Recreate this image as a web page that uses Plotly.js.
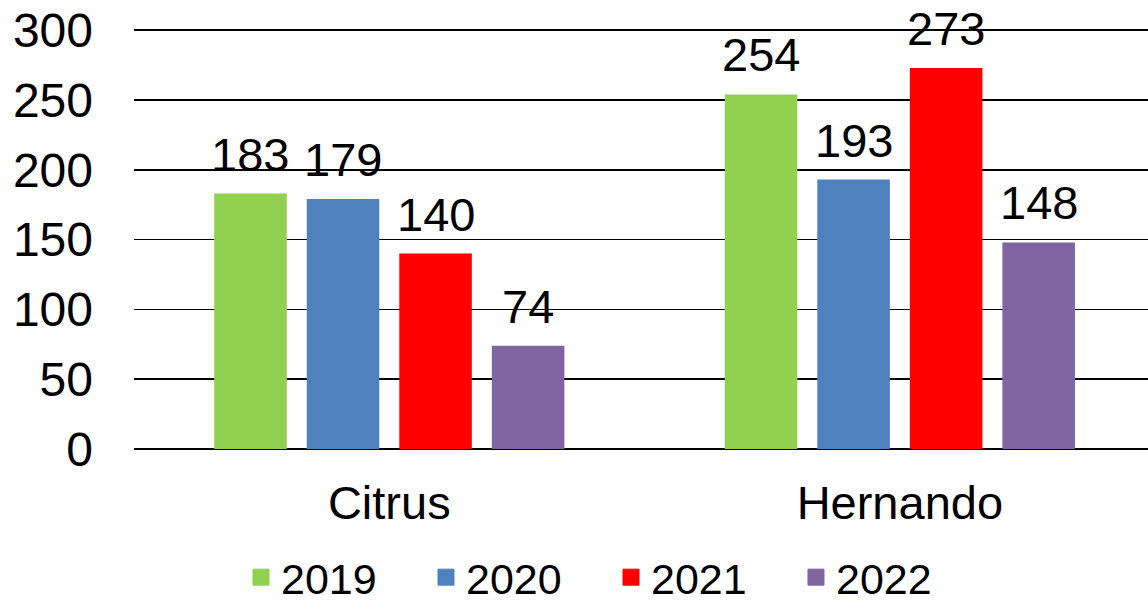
<!DOCTYPE html>
<html>
<head>
<meta charset="utf-8">
<script src="https://cdn.plot.ly/plotly-3.0.1.min.js"></script>
<style>html,body{margin:0;padding:0;background:#fff;}#chart{width:1148px;height:604px;}</style>
</head>
<body>
<div id="chart"></div>
<script>
const categories = ["Citrus", "Hernando"];
const seriesNames = ["2019", "2020", "2021", "2022"];
const values2019 = [183, 254];
const values2020 = [179, 193];
const values2021 = [140, 273];
const values2022 = [74, 148];
const yTicks = [0, 50, 100, 150, 200, 250, 300];

const colors = ["#92D050", "#4F81BD", "#FF0000", "#8064A2"];
const allValues = [values2019, values2020, values2021, values2022];
const FONT = "Liberation Sans, Arial, sans-serif";
const NARROW = "Liberation Sans Narrow, Arial Narrow, Liberation Sans, sans-serif";
const BARGAP = 0.275;

const traces = [];
allValues.forEach((vals, i) => {
  traces.push({
    type: "bar",
    name: seriesNames[i],
    x: categories,
    y: vals,
    marker: {color: colors[i]},
    showlegend: false,
    hoverinfo: "x+y+name"
  });
});
// legend entries (square swatches)
seriesNames.forEach((n, i) => {
  traces.push({
    type: "scatter", mode: "markers", name: n,
    x: [null], y: [null],
    marker: {symbol: "square", size: 16, color: colors[i], line: {width: 1, color: colors[i]}},
    showlegend: true, hoverinfo: "skip"
  });
});

// value labels above each bar, placed through the axes
const annotations = [];
const nS = allValues.length;
const slot = (1 - BARGAP) / nS;
allValues.forEach((vals, i) => {
  vals.forEach((v, j) => {
    annotations.push({
      x: j + (i - (nS - 1) / 2) * slot,
      y: v,
      xref: "x", yref: "y",
      text: String(v),
      showarrow: false,
      yanchor: "bottom",
      yshift: 11,
      font: {family: FONT, size: 47, color: "#000"}
    });
  });
});

const layout = {
  width: 1148, height: 604,
  margin: {l: 134, r: 0, t: 26, b: 155, autoexpand: false},
  paper_bgcolor: "#fff", plot_bgcolor: "#fff",
  barmode: "group",
  bargap: BARGAP,
  bargroupgap: 0.216,
  font: {family: FONT, size: 47, color: "#000"},
  annotations: annotations,
  xaxis: {
    type: "category",
    range: [-0.5, 1.486],
    showgrid: false, zeroline: false, showline: false,
    ticks: "", tickfont: {family: FONT, size: 47, color: "#000"},
    ticklabelstandoff: 22,
    fixedrange: true
  },
  yaxis: {
    range: [0, 303],
    tickvals: yTicks,
    ticktext: yTicks.map(String),
    showgrid: true, gridcolor: "#000", gridwidth: 1.5,
    zeroline: true, zerolinecolor: "#000", zerolinewidth: 1.5,
    showline: false, ticks: "",
    tickfont: {family: FONT, size: 48, color: "#000"},
    ticklabelstandoff: 40,
    fixedrange: true
  },
  showlegend: true,
  legend: {
    orientation: "h",
    x: 0.4704, xref: "paper", xanchor: "center",
    y: -0.3031, yref: "paper", yanchor: "middle",
    font: {family: NARROW, size: 43, color: "#000"},
    entrywidth: 140,
    traceorder: "normal",
    itemclick: false, itemdoubleclick: false
  }
};

Plotly.newPlot("chart", traces, layout, {displayModeBar: false, staticPlot: true});
</script>
</body>
</html>
